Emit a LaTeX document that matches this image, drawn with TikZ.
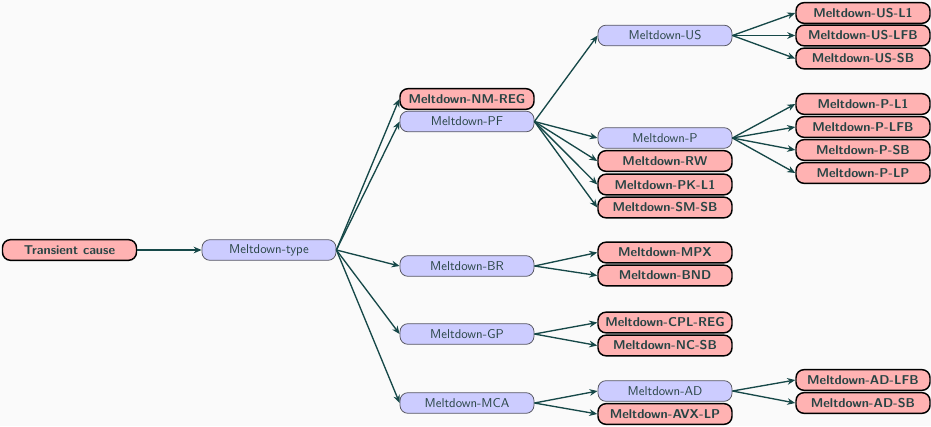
\documentclass[tikz,border=0pt]{standalone}
\usetikzlibrary{arrows.meta}
\definecolor{bgc}{RGB}{250,250,250}
\definecolor{bluef}{RGB}{204,204,255}
\definecolor{redf}{RGB}{255,178,178}
\definecolor{edgec}{RGB}{22,72,72}
\definecolor{txtc}{RGB}{40,68,68}
\definecolor{blueb}{RGB}{90,90,100}
\tikzset{
  base/.style={rounded corners=6pt, minimum width=100.5pt, minimum height=15.5pt, inner sep=1pt, font=\sffamily\fontsize{9.6}{11}\selectfont, text=txtc},
  bnode/.style={base, fill=bluef, draw=blueb, line width=0.6pt},
  rnode/.style={base, fill=redf, draw=black, line width=1.1pt, font=\sffamily\fontsize{9.6}{11}\selectfont\bfseries},
  edge/.style={draw=edgec, line width=1pt, -{Stealth[length=6pt,width=5pt]}}
}
\begin{document}
\begin{tikzpicture}[x=0.75pt,y=-0.75pt]
\fill[bgc] (0,0) rectangle (931,426);
\useasboundingbox (0,0) rectangle (931,426);
\node[rnode] (tc) at (69.5,250) {Transient cause};
\node[bnode] (mt) at (269,250) {Meltdown-type};
\node[rnode] (nmreg) at (467,99) {Meltdown-NM-REG};
\node[bnode] (pf) at (467,121.5) {Meltdown-PF};
\node[bnode] (br) at (467,266) {Meltdown-BR};
\node[bnode] (gp) at (467,334) {Meltdown-GP};
\node[bnode] (mca) at (467,403) {Meltdown-MCA};
\node[bnode] (us) at (665,35.5) {Meltdown-US};
\node[bnode] (p) at (665,138) {Meltdown-P};
\node[rnode] (rw) at (665,161) {Meltdown-RW};
\node[rnode] (pkl1) at (665,184.5) {Meltdown-PK-L1};
\node[rnode] (smsb) at (665,207.5) {Meltdown-SM-SB};
\node[rnode] (mpx) at (665,252.5) {Meltdown-MPX};
\node[rnode] (bnd) at (665,275.5) {Meltdown-BND};
\node[rnode] (cplreg) at (665,322.5) {Meltdown-CPL-REG};
\node[rnode] (ncsb) at (665,345.5) {Meltdown-NC-SB};
\node[bnode] (ad) at (665,391) {Meltdown-AD};
\node[rnode] (avxlp) at (665,414) {Meltdown-AVX-LP};
\node[rnode] (usl1) at (863,13) {Meltdown-US-L1};
\node[rnode] (uslfb) at (863,35.5) {Meltdown-US-LFB};
\node[rnode] (ussb) at (863,58.5) {Meltdown-US-SB};
\node[rnode] (pl1) at (863,104) {Meltdown-P-L1};
\node[rnode] (plfb) at (863,127) {Meltdown-P-LFB};
\node[rnode] (psb) at (863,150) {Meltdown-P-SB};
\node[rnode] (plp) at (863,173) {Meltdown-P-LP};
\node[rnode] (adlfb) at (863,380) {Meltdown-AD-LFB};
\node[rnode] (adsb) at (863,403) {Meltdown-AD-SB};
\foreach \a/\b in {tc/mt, mt/nmreg, mt/pf, mt/br, mt/gp, mt/mca,
  pf/us, pf/p, pf/rw, pf/pkl1, pf/smsb, br/mpx, br/bnd, gp/cplreg, gp/ncsb,
  mca/ad, mca/avxlp, us/usl1, us/uslfb, us/ussb, p/pl1, p/plfb, p/psb, p/plp,
  ad/adlfb, ad/adsb}
  \draw[edge] (\a.east) -- (\b.west);
\end{tikzpicture}
\end{document}
